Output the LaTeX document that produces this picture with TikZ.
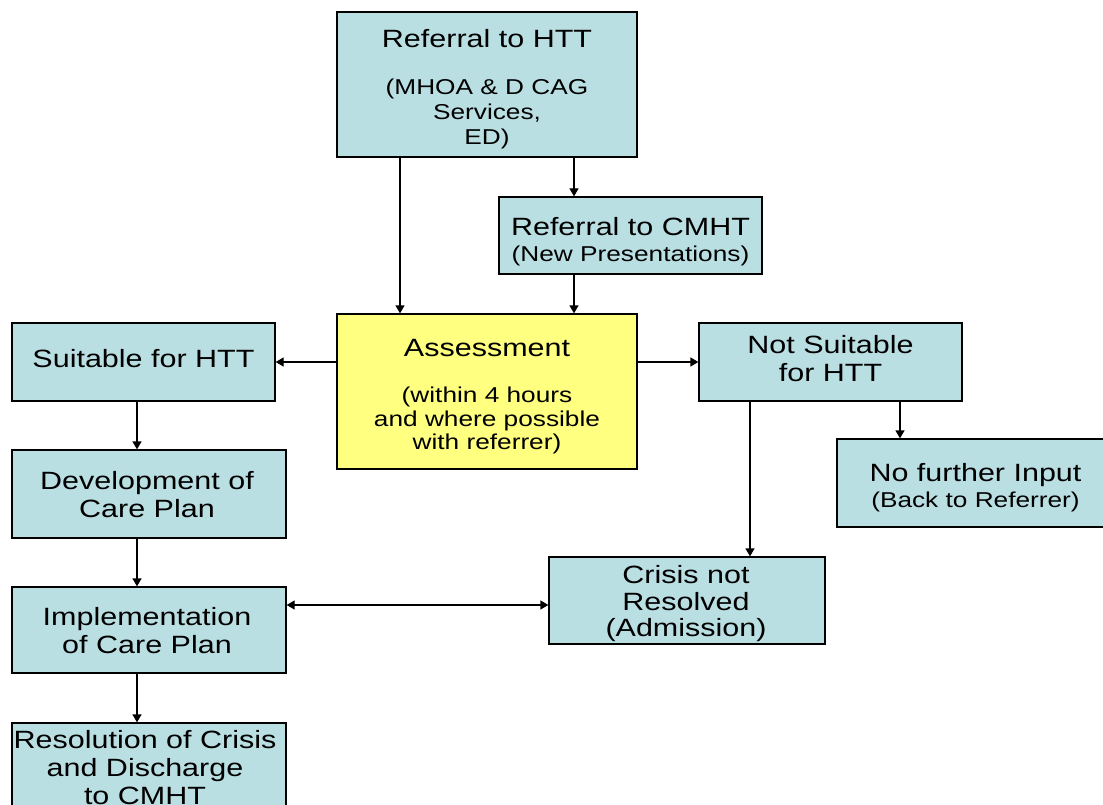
\documentclass[tikz,border=0pt]{standalone}
\usepackage{fontspec}
\setmainfont{Liberation Sans}[FakeStretch=1.22]
\usetikzlibrary{arrows.meta}
\definecolor{boxblue}{RGB}{186,223,227}
\definecolor{boxyellow}{RGB}{255,255,128}
\newcommand\mainsz{\fontsize{25}{28}\selectfont}
\newcommand\subsz{\fontsize{21.5}{25}\selectfont}
\tikzset{
  box/.style={draw=black, line width=1.3pt, fill=boxblue, inner sep=0pt, align=center, font=\mainsz},
  ybox/.style={box, fill=boxyellow},
  titletext/.style={inner sep=0pt, align=center, font=\mainsz},
  subtext/.style={inner sep=0pt, align=center, font=\subsz},
  arr/.style={-{Triangle[length=8pt,width=9pt]}, line width=1.3pt},
  dblarr/.style={{Triangle[length=8pt,width=9pt]}-{Triangle[length=8pt,width=9pt]}, line width=1.3pt}
}
\begin{document}
\begin{tikzpicture}[x=1pt,y=-1pt]
\useasboundingbox (0,0) rectangle (1103,805);
\begin{scope}
\clip (0,0) rectangle (1103,805);
% boxes
\node[box, minimum width=300pt, minimum height=145pt] (refhtt) at (487,84.5) {};
\node[titletext] (refhttT) at (487,38.5) {Referral to HTT};
\node[subtext] (refhttS) at (487,114) {(MHOA \& D CAG\\Services,\\ED)};

\node[box, minimum width=263pt, minimum height=77pt] (refcmht) at (630.5,235.5) {};
\node[titletext] (refcmhtT) at (630.5,227) {Referral to CMHT};
\node[subtext] (refcmhtS) at (630.5,255.5) {(New Presentations)};

\node[ybox, minimum width=300pt, minimum height=155pt] (assess) at (487,391.5) {};
\node[titletext] (assessT) at (487,348) {Assessment};
\node[subtext, font=\fontsize{21.5}{23.5}\selectfont] (assessS) at (487,420.5) {(within 4 hours\\and where possible\\with referrer)};

\node[box, minimum width=263pt, minimum height=78pt] (suit) at (143.5,362) {};
\node[titletext] (suitT) at (143.5,358.5) {Suitable for HTT};

\node[box, minimum width=263pt, minimum height=78pt] (notsuit) at (830.5,362) {};
\node[titletext] (notsuitT) at (830.5,359) {Not Suitable\\for HTT};

\node[box, minimum width=277pt, minimum height=88pt] (nofur) at (975.5,483) {};
\node[titletext] (nofurT) at (975.5,475) {No further Input};
\node[subtext] (nofurS) at (975.5,502) {(Back to Referrer)};

\node[box, minimum width=274pt, minimum height=88pt] (dev) at (149,494) {};
\node[titletext] (devT) at (147,495) {Development of\\Care Plan};

\node[box, minimum width=274pt, minimum height=86pt] (impl) at (149,630) {};
\node[titletext] (implT) at (147,630.5) {Implementation\\of Care Plan};

\node[box, minimum width=276pt, minimum height=87pt] (crisis) at (687,600.5) {};
\node[titletext, font=\fontsize{25}{26.5}\selectfont] (crisisT) at (686,604) {Crisis not\\Resolved\\(Admission)};

\node[box, minimum width=274pt, minimum height=90pt] (resol) at (149,768) {};
\node[titletext] (resolT) at (145,768) {Resolution of Crisis\\and Discharge\\to CMHT};

% guide coordinates
\coordinate (xa) at (400,0);
\coordinate (xb) at (574,0);
\coordinate (xc) at (900,0);
\coordinate (xd) at (750,0);
\coordinate (xe) at (137,0);
\coordinate (ya) at (0,605);

% connectors
\draw[arr] (refhtt.south -| xa) -- (assess.north -| xa);
\draw[arr] (refhtt.south -| xb) -- (refcmht.north -| xb);
\draw[arr] (refcmht.south -| xb) -- (assess.north -| xb);
\draw[arr] (assess.west |- suit.east) -- (suit.east);
\draw[arr] (assess.east |- notsuit.west) -- (notsuit.west);
\draw[arr] (notsuit.south -| xc) -- (nofur.north -| xc);
\draw[arr] (notsuit.south -| xd) -- (crisis.north -| xd);
\draw[arr] (suit.south -| xe) -- (dev.north -| xe);
\draw[arr] (dev.south -| xe) -- (impl.north -| xe);
\draw[arr] (impl.south -| xe) -- (resol.north -| xe);
\draw[dblarr] (impl.east |- ya) -- (crisis.west |- ya);
\end{scope}
\end{tikzpicture}
\end{document}
